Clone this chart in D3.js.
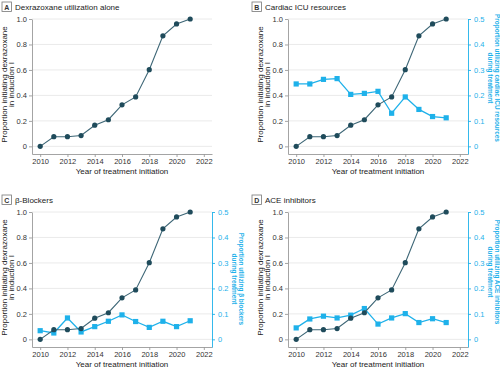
<!DOCTYPE html>
<html>
<head>
<meta charset="utf-8">
<script src="https://cdn.jsdelivr.net/npm/d3@7"></script>
<style>
  body { margin: 0; background: #fff; }
  svg { display: block; font-family: "Liberation Sans Narrow", "Liberation Sans", sans-serif; }
</style>
</head>
<body>
<div id="chart"></div>
<script>
// data
const years = [2010, 2011, 2012, 2013, 2014, 2015, 2016, 2017, 2018, 2019, 2020, 2021];
const dexrazoxane = [0, 0.076, 0.076, 0.085, 0.166, 0.209, 0.326, 0.388, 0.602, 0.868, 0.961, 1.0];
const cardiacICU = [0.245, 0.245, 0.263, 0.266, 0.204, 0.208, 0.216, 0.13, 0.194, 0.145, 0.117, 0.112];
const betaBlockers = [0.034, 0.025, 0.084, 0.029, 0.05, 0.071, 0.096, 0.07, 0.047, 0.071, 0.05, 0.073];
const aceInhibitors = [0.045, 0.08, 0.091, 0.084, 0.095, 0.121, 0.06, 0.084, 0.101, 0.066, 0.081, 0.066];
const xTicks = [2010, 2012, 2014, 2016, 2018, 2020, 2022];
const leftTicks = [0, 0.2, 0.4, 0.6, 0.8, 1.0];
const rightTicks = [0, 0.1, 0.2, 0.3, 0.4, 0.5];

const panels = [
  { letter: "A", title: "Dexrazoxane utilization alone", second: null, rightLabel: null, dx: 0, dy: 0, left: 32 },
  { letter: "B", title: "Cardiac ICU resources", second: cardiacICU,
    rightLabel: ["Proportion utilizing cardiac ICU resources", "during treatment"], dx: 250, dy: 0, left: 38, rightMid: 78 },
  { letter: "C", title: "\u03b2-Blockers", second: betaBlockers,
    rightLabel: ["Proportion utilizing \u03b2 blockers", "during treatment"], dx: 0, dy: 193, left: 32, rightMid: 86 },
  { letter: "D", title: "ACE inhibitors", second: aceInhibitors,
    rightLabel: ["Proportion utilizing ACE inhibitors", "during treatment"], dx: 250, dy: 193, left: 38, rightMid: 79 }
];

const width = 500, height = 368;
const darkLine = "#3d6676", darkDot = "#1f4b5b", blue = "#1eb1ea", axisGray = "#9a9a9a";

const svg = d3.select("#chart").append("svg")
  .attr("width", width)
  .attr("height", height);

panels.forEach(p => drawPanel(p));

function drawPanel(p) {
  const g = svg.append("g").attr("transform", `translate(${p.dx},${p.dy})`);
  const plotW = 180, top = 19, bottom = 154;

  const x = d3.scaleLinear().domain([2009.4, 2022.6]).range([p.left, p.left + plotW]);
  const y = d3.scaleLinear().domain([-0.06, 1.0]).range([bottom, top]);
  const y2 = d3.scaleLinear().domain([-0.03, 0.5]).range([bottom, top]);

  // badge + title
  g.append("rect").attr("x", 2).attr("y", 2).attr("width", 9.5).attr("height", 9.5)
    .attr("fill", "#fff").attr("stroke", "#777").attr("stroke-width", 0.8);
  g.append("text").attr("x", 6.75).attr("y", 9.6).attr("text-anchor", "middle")
    .attr("font-size", 7).attr("font-weight", "bold").attr("fill", "#333").text(p.letter);
  g.append("text").attr("x", 15).attr("y", 10).attr("font-size", 8).attr("fill", "#222").text(p.title);

  // gridlines
  g.append("g").selectAll("line").data(leftTicks).join("line")
    .attr("x1", p.left).attr("x2", p.left + plotW)
    .attr("y1", d => y(d)).attr("y2", d => y(d))
    .attr("stroke", "#e4e4e4").attr("stroke-width", 0.8);

  // left axis
  const la = g.append("g").attr("transform", `translate(${p.left},0)`)
    .call(d3.axisLeft(y).tickValues(leftTicks).tickSize(3).tickSizeOuter(0).tickPadding(2)
      .tickFormat(d => d === 0 ? "0" : d.toFixed(1)));
  styleAxis(la, axisGray, "#333");

  // bottom axis
  const ba = g.append("g").attr("transform", `translate(0,${bottom})`)
    .call(d3.axisBottom(x).tickValues(xTicks).tickSize(3).tickSizeOuter(0).tickPadding(2)
      .tickFormat(d3.format("d")));
  styleAxis(ba, axisGray, "#333");

  g.append("text").attr("x", x(2016)).attr("y", 174).attr("text-anchor", "middle")
    .attr("font-size", 8).attr("fill", "#222").text("Year of treatment initiation");

  // left axis title
  const lt = g.append("text").attr("transform", `translate(${p.left - 25},${(top + bottom) / 2 - 2}) rotate(-90)`)
    .attr("text-anchor", "middle").attr("font-size", 8).attr("fill", "#222");
  lt.append("tspan").attr("x", 0).attr("y", 0).text("Proportion initiating dexrazoxane");
  lt.append("tspan").attr("x", 0).attr("y", 6.5).text("in induction I");

  // right axis + second series
  if (p.second) {
    const right = p.left + plotW;
    const ra = g.append("g").attr("transform", `translate(${right},0)`)
      .call(d3.axisRight(y2).tickValues(rightTicks).tickSize(3).tickSizeOuter(0).tickPadding(3)
        .tickFormat(d => d === 0 ? "0" : d.toFixed(1)));
    styleAxis(ra, blue, blue);

    const rt = g.append("text").attr("transform", `translate(${right + 20},${p.rightMid}) rotate(90)`)
      .attr("text-anchor", "middle").attr("font-size", 6.4).attr("font-weight", "bold").attr("fill", blue);
    rt.append("tspan").attr("x", 0).attr("y", -6.5).text(p.rightLabel[0]);
    rt.append("tspan").attr("x", 0).attr("y", 0).text(p.rightLabel[1]);

    const line2 = d3.line().x((d, i) => x(years[i])).y(d => y2(d));
    g.append("path").datum(p.second).attr("d", line2)
      .attr("fill", "none").attr("stroke", blue).attr("stroke-width", 1.3);
    g.append("g").selectAll("rect").data(p.second).join("rect")
      .attr("x", (d, i) => x(years[i]) - 2.6).attr("y", d => y2(d) - 2.6)
      .attr("width", 5.2).attr("height", 5.2).attr("fill", blue);
  }

  // dexrazoxane series
  const line = d3.line().x((d, i) => x(years[i])).y(d => y(d));
  g.append("path").datum(dexrazoxane).attr("d", line)
    .attr("fill", "none").attr("stroke", darkLine).attr("stroke-width", 1.1);
  g.append("g").selectAll("circle").data(dexrazoxane).join("circle")
    .attr("cx", (d, i) => x(years[i])).attr("cy", d => y(d)).attr("r", 2.6)
    .attr("fill", darkDot);
}

function styleAxis(sel, lineColor, textColor) {
  sel.select(".domain").attr("stroke", lineColor).attr("stroke-width", 0.9);
  sel.selectAll(".tick line").attr("stroke", lineColor).attr("stroke-width", 0.9);
  sel.selectAll(".tick text").attr("fill", textColor).attr("font-size", 7.5)
    .attr("font-family", "\"Liberation Sans Narrow\", \"Liberation Sans\", sans-serif");
}
</script>
</body>
</html>
